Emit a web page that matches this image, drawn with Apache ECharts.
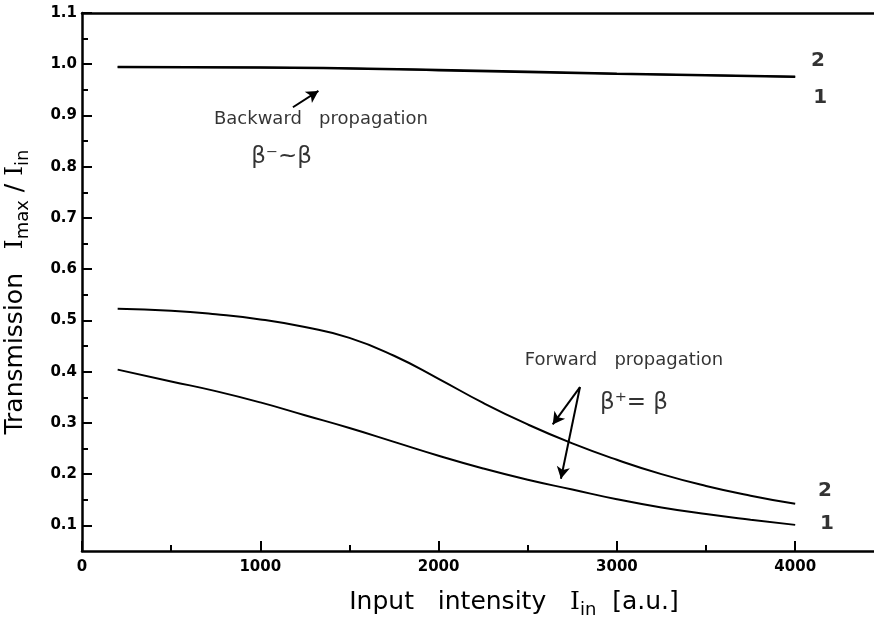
<!DOCTYPE html>
<html>
<head>
<meta charset="utf-8">
<script src="https://cdn.jsdelivr.net/npm/echarts@6/dist/echarts.min.js"></script>
<style>
html,body{margin:0;padding:0;background:#fff;}
#chart{width:874px;height:622px;}
</style>
</head>
<body>
<div id="chart"></div>
<script>
// ---- data ----
const xValues = [200, 500, 750, 1000, 1250, 1500, 1750, 2000, 2250, 2500, 2750, 3000, 3250, 3500, 3750, 4000];
const forward2 = [0.523, 0.519, 0.512, 0.502, 0.487, 0.466, 0.431, 0.386, 0.339, 0.297, 0.260, 0.228, 0.200, 0.177, 0.158, 0.142];
const forward1 = [0.404, 0.381, 0.362, 0.340, 0.315, 0.290, 0.263, 0.236, 0.211, 0.189, 0.170, 0.151, 0.135, 0.122, 0.111, 0.101];
const backwardX = [200, 1000, 2000, 3000, 4000];
const backward1 = [0.994, 0.993, 0.988, 0.981, 0.975];
const backward2 = [0.995, 0.994, 0.989, 0.982, 0.976];
const xMajorTicks = [0, 1000, 2000, 3000, 4000];
const xMinorTicks = [500, 1500, 2500, 3500];
const yMajorTicks = [0.1, 0.2, 0.3, 0.4, 0.5, 0.6, 0.7, 0.8, 0.9, 1.0, 1.1];
const yMinorTicks = [0.15, 0.25, 0.35, 0.45, 0.55, 0.65, 0.75, 0.85, 0.95, 1.05];
const curveLabels = [
  {text: '2', x: 4128, y: 1.006},
  {text: '1', x: 4140, y: 0.934},
  {text: '2', x: 4167, y: 0.168},
  {text: '1', x: 4178, y: 0.104}
];
const textNotes = [
  {text: '{t|Backward   propagation}', x: 1340, y: 0.893},
  {text: '{b|β⁻~β}', x: 1119, y: 0.819},
  {text: '{t|Forward   propagation}', x: 3040, y: 0.422},
  {text: '{b|β⁺= β}', x: 3096, y: 0.338}
];
const arrows = [
  [[1183, 0.916], [1326, 0.948]],
  [[2793, 0.370], [2640, 0.297]],
  [[2793, 0.370], [2686, 0.191]]
];

const FONT = 'DejaVu Sans';
const BLACK = '#000';

function pairs(xs, ys){ return xs.map((x,i)=>[x, ys[i]]); }

const axisLineStyle = {color: BLACK, width: 2.5};
const titleRich = {
  t: {fontFamily: FONT, fontSize: 25, color: BLACK, lineHeight: 33, verticalAlign: 'middle'},
  i: {fontFamily: 'DejaVu Serif', fontSize: 25, color: BLACK, lineHeight: 33, verticalAlign: 'middle'},
  s: {fontFamily: FONT, fontSize: 18, color: BLACK, lineHeight: 20, verticalAlign: 'bottom'}
};

const option = {
  backgroundColor: '#fff',
  animation: false,
  grid: {left: 82, top: 13, right: 0, bottom: 71, containLabel: false, outerBoundsMode: 'none'},
  xAxis: [
    {
      type: 'value', min: 0, max: 4442, position: 'bottom',
      axisLine: {show: true, onZero: false, lineStyle: axisLineStyle},
      axisTick: {show: true, inside: true, length: 10, customValues: xMajorTicks, lineStyle: {color: BLACK, width: 2}},
      axisLabel: {show: true, customValues: xMajorTicks, margin: 9, color: BLACK, fontFamily: FONT, fontSize: 15,
        fontWeight: 'bold', formatter: v => String(v)},
      splitLine: {show: false},
      name: '{t|Input   intensity   }{i|I}{s|in}{t|  [a.u.]}',
      nameLocation: 'middle', nameGap: 35,
      nameTextStyle: {padding: [0, 0, 0, 72], rich: titleRich}
    },
    {
      type: 'value', min: 0, max: 4442, position: 'bottom', offset: 0,
      axisLine: {show: false},
      axisTick: {show: true, inside: true, length: 6, customValues: xMinorTicks, lineStyle: {color: BLACK, width: 2}},
      axisLabel: {show: false},
      splitLine: {show: false}
    },
    {
      type: 'value', min: 0, max: 4442, position: 'top',
      axisLine: {show: true, onZero: false, lineStyle: axisLineStyle},
      axisTick: {show: false}, axisLabel: {show: false}, splitLine: {show: false}
    }
  ],
  yAxis: [
    {
      type: 'value', min: 0.05, max: 1.1, position: 'left',
      axisLine: {show: true, onZero: false, lineStyle: axisLineStyle},
      axisTick: {show: true, inside: true, length: 10, customValues: yMajorTicks, lineStyle: {color: BLACK, width: 2}},
      axisLabel: {show: true, customValues: yMajorTicks, margin: 5, color: BLACK, fontFamily: FONT, fontSize: 15,
        fontWeight: 'bold', formatter: v => v.toFixed(1)},
      splitLine: {show: false},
      name: '{t|Transmission   }{i|I}{s|max}{t| / }{i|I}{s|in}',
      nameLocation: 'middle', nameGap: 50, nameRotate: 90,
      nameTextStyle: {padding: [0, 20, 0, 0], rich: titleRich}
    },
    {
      type: 'value', min: 0.05, max: 1.1, position: 'left', offset: 0,
      axisLine: {show: false},
      axisTick: {show: true, inside: true, length: 6, customValues: yMinorTicks, lineStyle: {color: BLACK, width: 2}},
      axisLabel: {show: false},
      splitLine: {show: false}
    }
  ],
  series: [
    {
      type: 'line', name: 'backward2', data: pairs(backwardX, backward2), smooth: true,
      showSymbol: false, lineStyle: {color: BLACK, width: 2}
    },
    {
      type: 'line', name: 'backward1', data: pairs(backwardX, backward1), smooth: true,
      showSymbol: false, lineStyle: {color: BLACK, width: 2}
    },
    {
      type: 'line', name: 'forward2', data: pairs(xValues, forward2), smooth: 0.5,
      showSymbol: false, lineStyle: {color: BLACK, width: 2}
    },
    {
      type: 'line', name: 'forward1', data: pairs(xValues, forward1), smooth: 0.5,
      showSymbol: false, lineStyle: {color: BLACK, width: 2},
      markLine: {
        silent: true, symbol: ['none', 'arrow'], symbolSize: [10, 12],
        lineStyle: {color: BLACK, width: 2, type: 'solid'},
        label: {show: false},
        data: arrows.map(a => [{coord: a[0]}, {coord: a[1]}])
      }
    },
    {
      type: 'scatter', name: 'labels', symbolSize: 0, silent: true,
      data: curveLabels.map(d => ({value: [d.x, d.y], label: {formatter: d.text}})),
      label: {show: true, position: 'inside', color: BLACK, fontFamily: FONT, fontSize: 20, fontWeight: 'bold'}
    },
    {
      type: 'scatter', name: 'notes', symbolSize: 0, silent: true,
      data: textNotes.map(d => ({value: [d.x, d.y], label: {formatter: d.text}})),
      label: {
        show: true, position: 'inside', color: BLACK,
        rich: {
          t: {fontFamily: FONT, fontSize: 18, color: BLACK},
          b: {fontFamily: FONT, fontSize: 23, color: BLACK}
        }
      }
    }
  ]
};

const chart = echarts.init(document.getElementById('chart'), null, {renderer: 'canvas'});
chart.setOption(option);
</script>
</body>
</html>
